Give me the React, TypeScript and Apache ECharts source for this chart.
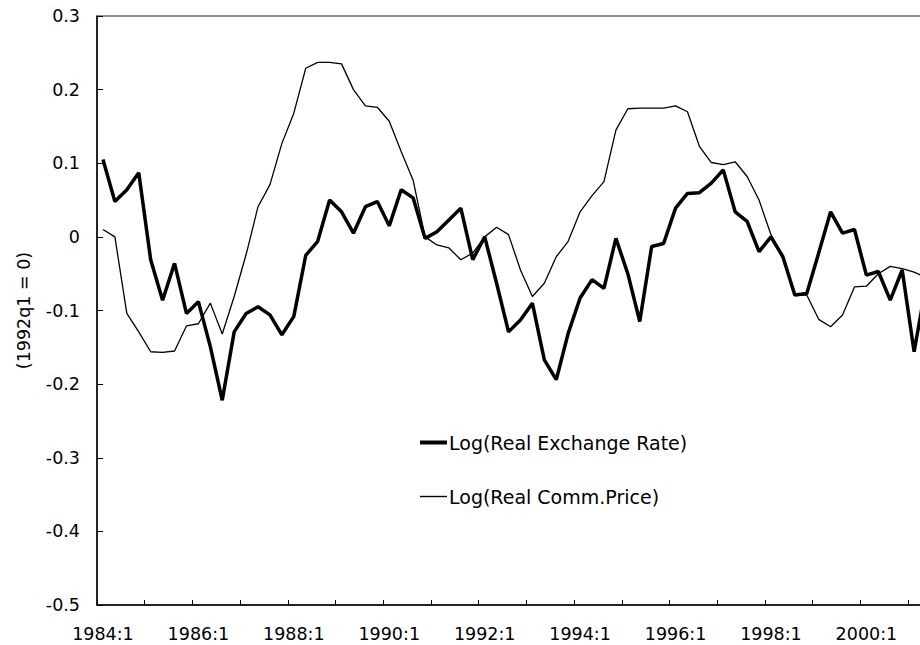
import React, { useEffect, useRef } from "react";
import * as echarts from "echarts";

// Quarterly categories 1984:1 .. 2001:2
const startYear = 1984;
const quarterCount = 70;
const categories: string[] = [];
for (let i = 0; i < quarterCount; i++) {
  categories.push(`${startYear + Math.floor(i / 4)}:${(i % 4) + 1}`);
}

const yTicks = { min: -0.5, max: 0.3, step: 0.1 };

const exchangeRate = [
  0.105, 0.048, 0.064, 0.087, -0.031, -0.086, -0.036, -0.104,
  -0.088, -0.149, -0.222, -0.129, -0.104, -0.095, -0.106, -0.133,
  -0.108, -0.025, -0.006, 0.05, 0.034, 0.005, 0.041, 0.048,
  0.015, 0.064, 0.053, -0.002, 0.007, 0.023, 0.039, -0.031,
  0.0, -0.063, -0.129, -0.113, -0.09, -0.167, -0.194, -0.131,
  -0.083, -0.058, -0.07, -0.002, -0.05, -0.115, -0.013, -0.009,
  0.039, 0.059, 0.06, 0.073, 0.091, 0.034, 0.021, -0.02,
  0.0, -0.027, -0.079, -0.077, -0.022, 0.034, 0.005, 0.01,
  -0.052, -0.047, -0.086, -0.045, -0.156, -0.065,
];

const commodityPrice = [
  0.01, 0.0, -0.104, -0.129, -0.156, -0.157, -0.155, -0.121,
  -0.118, -0.09, -0.132, -0.081, -0.024, 0.041, 0.071, 0.127,
  0.168, 0.229, 0.237, 0.237, 0.235, 0.2, 0.178, 0.176,
  0.157, 0.116, 0.077, 0.0, -0.011, -0.015, -0.031, -0.022,
  0.0, 0.013, 0.003, -0.045, -0.081, -0.063, -0.027, -0.006,
  0.034, 0.056, 0.075, 0.145, 0.174, 0.175, 0.175, 0.175,
  0.178, 0.17, 0.123, 0.101, 0.098, 0.102, 0.082, 0.05,
  0.003, -0.029, -0.079, -0.079, -0.112, -0.122, -0.106, -0.068,
  -0.067, -0.05, -0.04, -0.043, -0.048, -0.055,
];

const seriesNames = ["Log(Real Exchange Rate)", "Log(Real Comm.Price)"];
const yAxisName = "(1992q1 = 0)";

export default function App() {
  const ref = useRef<HTMLDivElement>(null);

  useEffect(() => {
    if (!ref.current) return;
    const chart = echarts.init(ref.current, null, { renderer: "svg" });
    const font = "'DejaVu Sans', sans-serif";
    chart.setOption({
      animation: false,
      backgroundColor: "#ffffff",
      grid: {
        left: 97,
        top: 16,
        right: 0,
        bottom: 40,
        show: true,
        borderColor: "#222",
        borderWidth: 1,
      },
      legend: {
        orient: "vertical",
        left: 415,
        top: 428,
        itemWidth: 27,
        itemHeight: 20,
        itemGap: 35,
        selectedMode: false,
        textStyle: { fontFamily: font, fontSize: 19, color: "#000", padding: [0, 0, 0, -3] },
        data: [
          { name: seriesNames[0], icon: "path://M0 0H27V4H0Z", itemStyle: { color: "#000" } },
          { name: seriesNames[1], icon: "path://M0 0H27V1.4H0Z", itemStyle: { color: "#000" } },
        ],
      },
      xAxis: {
        type: "category",
        data: categories,
        boundaryGap: true,
        axisLine: { show: true, onZero: false, lineStyle: { color: "#000", width: 1.5 } },
        axisTick: {
          show: true,
          inside: true,
          length: 5,
          interval: 3,
          lineStyle: { color: "#000", width: 1 },
        },
        axisLabel: {
          interval: 7,
          margin: 20,
          fontFamily: font,
          fontSize: 17.5,
          color: "#000",
        },
        splitLine: { show: false },
      },
      yAxis: {
        type: "value",
        min: yTicks.min,
        max: yTicks.max,
        interval: yTicks.step,
        name: yAxisName,
        nameLocation: "middle",
        nameGap: 64,
        nameRotate: 90,
        nameTextStyle: { fontFamily: font, fontSize: 17.5, color: "#000" },
        axisLine: { show: true, lineStyle: { color: "#000", width: 1.5 } },
        axisTick: {
          show: true,
          inside: true,
          length: 6,
          lineStyle: { color: "#000", width: 1 },
        },
        axisLabel: {
          margin: 17,
          fontFamily: font,
          fontSize: 17.5,
          color: "#000",
          formatter: (v: number) => String(Math.round(v * 10) / 10),
        },
        splitLine: { show: false },
      },
      series: [
        {
          name: seriesNames[0],
          type: "line",
          data: exchangeRate,
          symbol: "none",
          lineStyle: { color: "#000", width: 3.5 },
          itemStyle: { color: "#000" },
          z: 3,
        },
        {
          name: seriesNames[1],
          type: "line",
          data: commodityPrice,
          symbol: "none",
          lineStyle: { color: "#000", width: 1.3 },
          itemStyle: { color: "#000" },
          z: 2,
        },
      ],
    });
    return () => chart.dispose();
  }, []);

  return (
    <div
      style={{
        position: "absolute",
        left: 0,
        top: 0,
        width: 920,
        height: 645,
        overflow: "hidden",
        background: "#fff",
      }}
    >
      <div ref={ref} style={{ width: 932, height: 645 }} />
    </div>
  );
}
